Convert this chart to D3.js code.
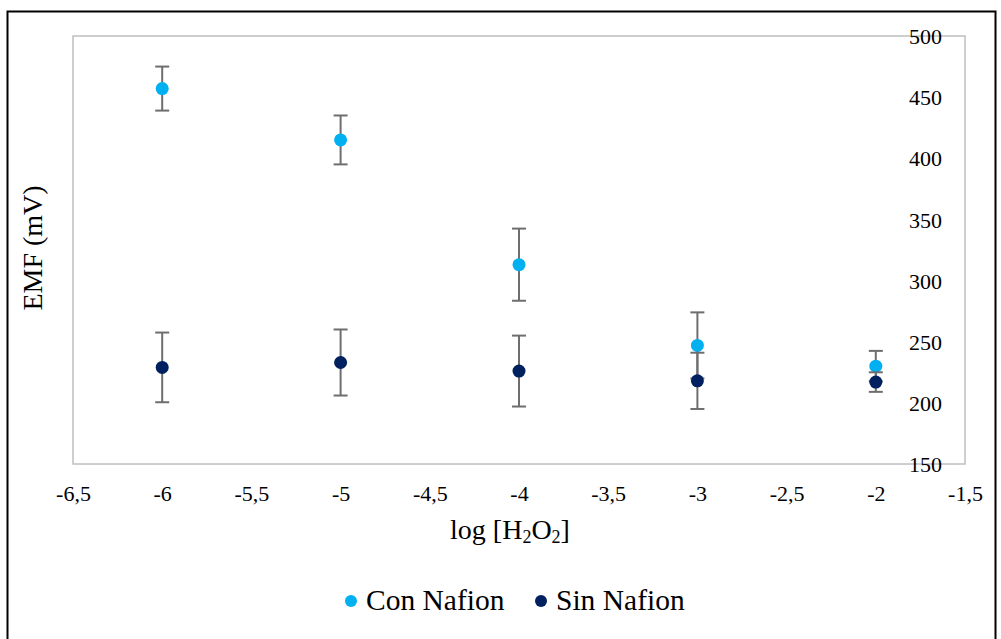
<!DOCTYPE html>
<html>
<head>
<meta charset="utf-8">
<script src="https://cdn.jsdelivr.net/npm/d3@7"></script>
<style>
  html, body { margin: 0; padding: 0; background: #fff; }
  svg { display: block; }
</style>
</head>
<body>
<svg id="chart" width="1001" height="639"></svg>
<script>
// log concentration of H2O2 (x positions of the measurements)
const logConc = [-6, -5, -4, -3, -2];
// EMF (mV) with Nafion membrane, and its error
const conNafion = [457, 415, 313, 247, 230];
const conNafionErr = [18, 20, 29.5, 27, 12.5];
// EMF (mV) without Nafion membrane, and its error
const sinNafion = [229, 233, 226, 218, 217];
const sinNafionErr = [28.5, 27, 29, 23, 8];
// axis tick values
const xTicks = [-6.5, -6, -5.5, -5, -4.5, -4, -3.5, -3, -2.5, -2, -1.5];
const yTicks = [150, 200, 250, 300, 350, 400, 450, 500];
const seriesNames = ["Con Nafion", "Sin Nafion"];

const colors = { con: "#00b0f0", sin: "#002060" };
const FONT = "'Liberation Serif', 'Times New Roman', serif";

const svg = d3.select("#chart").style("font-family", FONT);
const plot = { left: 73, right: 965, top: 36, bottom: 464 };

const x = d3.scaleLinear().domain([-6.5, -1.5]).range([plot.left, plot.right]);
const y = d3.scaleLinear().domain([150, 500]).range([plot.bottom, plot.top]);

const locale = d3.formatLocale({ decimal: ",", thousands: ".", grouping: [3], currency: ["", ""], minus: "-" });
const fmtX = locale.format("~g");

// outer frame
svg.append("rect")
  .attr("x", 7.5).attr("y", 11.5)
  .attr("width", 988).attr("height", 660)
  .attr("fill", "none").attr("stroke", "#000").attr("stroke-width", 2);

// plot area border
svg.append("rect")
  .attr("x", plot.left).attr("y", plot.top)
  .attr("width", plot.right - plot.left).attr("height", plot.bottom - plot.top)
  .attr("fill", "none").attr("stroke", "#bfbfbf").attr("stroke-width", 1.5);

// x axis labels
const xAxis = d3.axisBottom(x).tickValues(xTicks).tickFormat(fmtX).tickSize(0).tickPadding(0);
const gx = svg.append("g").attr("transform", `translate(0,${plot.bottom})`).call(xAxis);
gx.select(".domain").remove();
gx.attr("font-family", null).attr("font-size", null);
gx.selectAll("text")
  .attr("dy", null).attr("y", 37)
  .style("font-family", FONT)
  .style("font-size", "22px").attr("fill", "#000");

// y axis labels, placed inside the right edge
const yAxis = d3.axisLeft(y).tickValues(yTicks).tickFormat(d3.format("d")).tickSize(0).tickPadding(0);
const gy = svg.append("g").attr("transform", `translate(${plot.right - 23},0)`).call(yAxis);
gy.select(".domain").remove();
gy.attr("font-family", null).attr("font-size", null);
gy.selectAll("text")
  .attr("x", 0).attr("dy", "0.35em")
  .style("font-family", FONT)
  .style("font-size", "22px").attr("fill", "#000");

// axis titles
const xt = svg.append("text")
  .attr("x", 510).attr("y", 539)
  .attr("text-anchor", "middle")
  .style("font-family", FONT)
  .style("font-size", "28px").attr("fill", "#000");
xt.append("tspan").text("log [H");
xt.append("tspan").style("font-size", "18px").attr("dy", 4).text("2");
xt.append("tspan").attr("dy", -4).text("O");
xt.append("tspan").style("font-size", "18px").attr("dy", 4).text("2");
xt.append("tspan").attr("dy", -4).text("]");

svg.append("text")
  .attr("transform", "translate(42,248) rotate(-90)")
  .attr("text-anchor", "middle")
  .style("font-family", FONT)
  .style("font-size", "28px").attr("fill", "#000")
  .text("EMF (mV)");

// series with error bars
function drawSeries(values, errs, color) {
  const data = logConc.map((c, i) => ({ x: c, y: values[i], e: errs[i] }));
  const g = svg.append("g");
  const eb = g.selectAll("g.err").data(data).join("g").attr("class", "err")
    .attr("stroke", "#6e6e6e").attr("stroke-width", 2);
  eb.append("line")
    .attr("x1", d => x(d.x)).attr("x2", d => x(d.x))
    .attr("y1", d => y(d.y + d.e)).attr("y2", d => y(d.y - d.e));
  eb.append("line")
    .attr("x1", d => x(d.x) - 7).attr("x2", d => x(d.x) + 7)
    .attr("y1", d => y(d.y + d.e)).attr("y2", d => y(d.y + d.e));
  eb.append("line")
    .attr("x1", d => x(d.x) - 7).attr("x2", d => x(d.x) + 7)
    .attr("y1", d => y(d.y - d.e)).attr("y2", d => y(d.y - d.e));
  g.selectAll("circle").data(data).join("circle")
    .attr("cx", d => x(d.x)).attr("cy", d => y(d.y))
    .attr("r", 6.5).attr("fill", color);
}
drawSeries(conNafion, conNafionErr, colors.con);
drawSeries(sinNafion, sinNafionErr, colors.sin);

// legend
const legendItems = [
  { name: seriesNames[0], color: colors.con, cx: 351 },
  { name: seriesNames[1], color: colors.sin, cx: 541 }
];
const lg = svg.append("g");
legendItems.forEach(it => {
  lg.append("circle").attr("cx", it.cx).attr("cy", 601).attr("r", 6).attr("fill", it.color);
  lg.append("text").attr("x", it.cx + 15).attr("y", 610)
    .style("font-family", FONT)
    .style("font-size", "29.5px").attr("fill", "#000").text(it.name);
});
</script>
</body>
</html>
